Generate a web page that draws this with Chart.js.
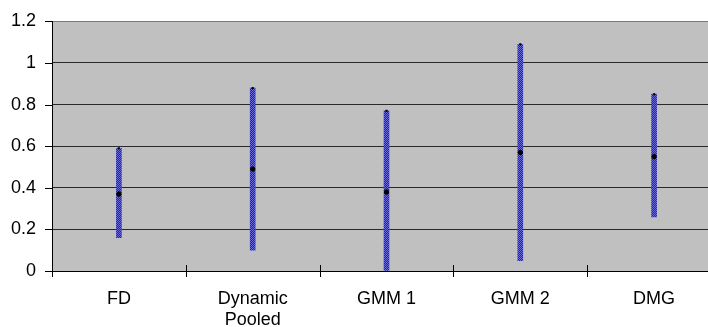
<!DOCTYPE html>
<html>
<head>
<meta charset="utf-8">
<script src="https://cdn.jsdelivr.net/npm/chart.js@4"></script>
<style>
  html, body { margin: 0; padding: 0; background: #fff; overflow: hidden; }
  #wrap { width: 730px; height: 327px; }
</style>
</head>
<body>
<div id="wrap"><canvas id="rangeChart"></canvas></div>
<script>
// data
const categories = ['FD', ['Dynamic', 'Pooled'], 'GMM 1', 'GMM 2', 'DMG'];
const lowValues  = [0.16, 0.10, 0.00, 0.05, 0.26];
const highValues = [0.59, 0.88, 0.77, 1.09, 0.85];
const midValues  = [0.37, 0.49, 0.38, 0.57, 0.55];
const yTicks = [0, 0.2, 0.4, 0.6, 0.8, 1, 1.2];

// dotted blue texture like the original bars
function barPattern() {
    const c = document.createElement('canvas');
    c.width = 2; c.height = 2;
    const p = c.getContext('2d');
    p.fillStyle = '#23239a'; p.fillRect(0, 0, 2, 2);
    p.fillStyle = '#6a6ad6'; p.fillRect(0, 0, 1, 1); p.fillRect(1, 1, 1, 1);
    return document.getElementById('rangeChart').getContext('2d').createPattern(c, 'repeat');
}

// grey plot area, y tick marks, ticks crossing the x axis
const plotArea = {
    id: 'plotArea',
    beforeDraw: (chart) => {
        const ctx = chart.ctx;
        const a = chart.chartArea;
        ctx.save();
        ctx.fillStyle = '#c0c0c0';
        ctx.fillRect(a.left, a.top, a.right - a.left, a.bottom - a.top);
        ctx.restore();
    },
    afterDraw: (chart) => {
        const ctx = chart.ctx;
        const a = chart.chartArea;
        const y = chart.scales.y;
        const w = (a.right - a.left) / categories.length;
        ctx.save();
        ctx.strokeStyle = '#000';
        ctx.lineWidth = 1;
        for (let i = 1; i < categories.length; i++) {
            const px = Math.round(a.left + i * w) + 0.5;
            ctx.beginPath();
            ctx.moveTo(px, a.bottom - 6);
            ctx.lineTo(px, a.bottom + 6);
            ctx.stroke();
        }
        // left axis tick marks
        yTicks.forEach(v => {
            const py = Math.round(y.getPixelForValue(v)) + 0.5;
            ctx.beginPath();
            ctx.moveTo(a.left - 7, py);
            ctx.lineTo(a.left, py);
            ctx.stroke();
        });
        // axis runs a bit below zero like the original
        ctx.beginPath();
        ctx.moveTo(a.left + 0.5, a.bottom);
        ctx.lineTo(a.left + 0.5, a.bottom + 6);
        ctx.stroke();
        ctx.restore();
    }
};

const rangeData = lowValues.map((lo, i) => [lo, highValues[i]]);

new Chart(document.getElementById('rangeChart'), {
    data: {
        labels: categories,
        datasets: [
            {
                type: 'scatter',
                data: midValues.map((v, i) => ({ x: i, y: v })),
                backgroundColor: '#000',
                borderColor: '#000',
                pointRadius: 2.2,
                order: 0
            },
            {
                type: 'scatter',
                data: highValues.map((v, i) => ({ x: i, y: v })),
                backgroundColor: '#000',
                borderColor: '#000',
                pointStyle: 'rect',
                pointRadius: 1.5,
                borderWidth: 0,
                order: 1
            },
            {
                type: 'bar',
                data: rangeData,
                backgroundColor: barPattern(),
                borderWidth: 0,
                barThickness: 5,
                grouped: false,
                order: 2
            }
        ]
    },
    options: {
        responsive: true,
        maintainAspectRatio: false,
        animation: false,
        layout: { padding: { top: 20, right: 9, left: 0, bottom: 0 } },
        plugins: {
            legend: { display: false },
            tooltip: { enabled: false }
        },
        scales: {
            x: {
                type: 'category',
                offset: true,
                grid: { display: false, drawOnChartArea: false },
                border: { display: true, color: '#000', width: 1 },
                ticks: {
                    color: '#000',
                    padding: 9,
                    maxRotation: 0,
                    autoSkip: false,
                    font: { family: 'Liberation Sans, Arial, sans-serif', size: 18, lineHeight: 1.2 }
                },
                afterFit: (scale) => { scale.height = 56; }
            },
            y: {
                min: 0,
                max: 1.2,
                afterBuildTicks: (scale) => { scale.ticks = yTicks.map(v => ({ value: v })); },
                grid: {
                    color: (c) => c.tick && c.tick.value === 1.2 ? '#7a7a7a' : '#2a2a2a',
                    lineWidth: 1,
                    drawTicks: false
                },
                border: { display: true, color: '#000', width: 1 },
                ticks: {
                    color: '#000',
                    padding: 16,
                    font: { family: 'Liberation Sans, Arial, sans-serif', size: 18, lineHeight: 0.6 },
                    callback: (v) => String(+(+v).toFixed(1))
                },
                afterFit: (scale) => { scale.width = 52; }
            }
        }
    },
    plugins: [plotArea]
});
</script>
</body>
</html>
